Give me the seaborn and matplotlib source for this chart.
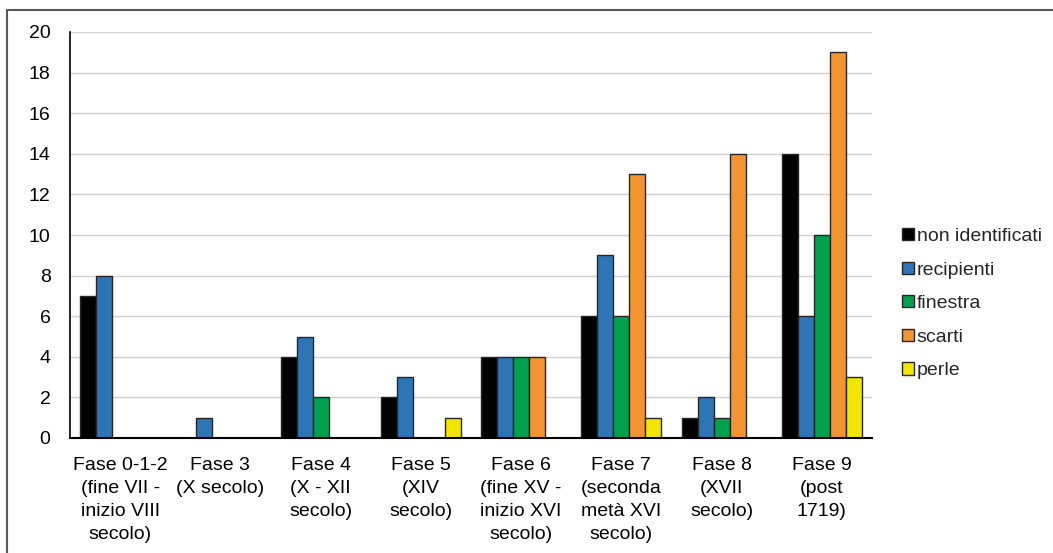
import matplotlib
matplotlib.use("Agg")
import matplotlib.pyplot as plt
import seaborn as sns
import pandas as pd
from matplotlib.patches import Rectangle, Patch

categories = ["Fase 0-1-2\n(fine VII -\ninizio VIII\nsecolo)", "Fase 3\n(X secolo)",
              "Fase 4\n(X - XII\nsecolo)", "Fase 5\n(XIV\nsecolo)",
              "Fase 6\n(fine XV -\ninizio XVI\nsecolo)", "Fase 7\n(seconda\nmetà XVI\nsecolo)",
              "Fase 8\n(XVII\nsecolo)", "Fase 9\n(post\n1719)"]
series = ["non identificati", "recipienti", "finestra", "scarti", "perle"]
non_identificati = [7, 0, 4, 2, 4, 6, 1, 14]
recipienti = [8, 1, 5, 3, 4, 9, 2, 6]
finestra = [0, 0, 2, 0, 4, 6, 1, 10]
scarti = [0, 0, 0, 0, 4, 13, 14, 19]
perle = [0, 0, 0, 1, 0, 1, 0, 3]
colors = ["#000000", "#2E75B6", "#00A04E", "#F39433", "#F2E600"]

values = [non_identificati, recipienti, finestra, scarti, perle]
rows = []
for s, vals in zip(series, values):
    for c, v in zip(categories, vals):
        rows.append({"cat": c, "serie": s, "val": v})
df = pd.DataFrame(rows)

sns.set_theme(style="white")
plt.rcParams['font.family'] = ['Liberation Sans', 'DejaVu Sans']

FS = 14

fig = plt.figure(figsize=(10.53, 5.53), dpi=100)
ax = fig.add_axes([70/1053, 1 - 438/553, (872-70)/1053, (438-32)/553])

sns.barplot(data=df, x="cat", y="val", hue="serie", order=categories, hue_order=series,
            palette=colors, saturation=1, width=0.8, edgecolor="#262626", linewidth=1.0, ax=ax,
            legend=False)
for p in ax.patches:
    if p.get_height() == 0:
        p.set_visible(False)

ax.set_ylim(0, 20)
ax.set_yticks(range(0, 21, 2))
ax.set_xlim(-0.5, 7.5)
ax.yaxis.grid(True, color="#D0D0D0", linewidth=1)
ax.set_axisbelow(True)
ax.set_xlabel("")
ax.set_ylabel("")
for sp in ["top", "right"]:
    ax.spines[sp].set_visible(False)
ax.spines["left"].set_color("black")
ax.spines["bottom"].set_color("black")
ax.spines["left"].set_linewidth(1.2)
ax.spines["bottom"].set_linewidth(1.5)
ax.tick_params(axis="both", length=0, labelsize=FS, colors="black")
ax.tick_params(axis="y", pad=14)
ax.tick_params(axis="x", pad=14)
for t in ax.get_xticklabels():
    t.set_linespacing(1.45)
    t.set_horizontalalignment("center")

handles = [Patch(facecolor=c, edgecolor="#262626", linewidth=1.0, label=s) for c, s in zip(colors, series)]
leg = fig.legend(handles=handles, loc="upper left", bbox_to_anchor=(902/1053, 1 - 228/553),
                 frameon=False, fontsize=FS, handlelength=0.6, handleheight=0.6,
                 handletextpad=0.15, labelspacing=0.85, borderaxespad=0, borderpad=0)

fig.patches.append(Rectangle((7/1053, -0.1), 1.2, 1 - 10/553 + 0.1, transform=fig.transFigure,
                             fill=False, edgecolor="#595959", linewidth=1.5, figure=fig))

fig.savefig("out.png", dpi=100)
